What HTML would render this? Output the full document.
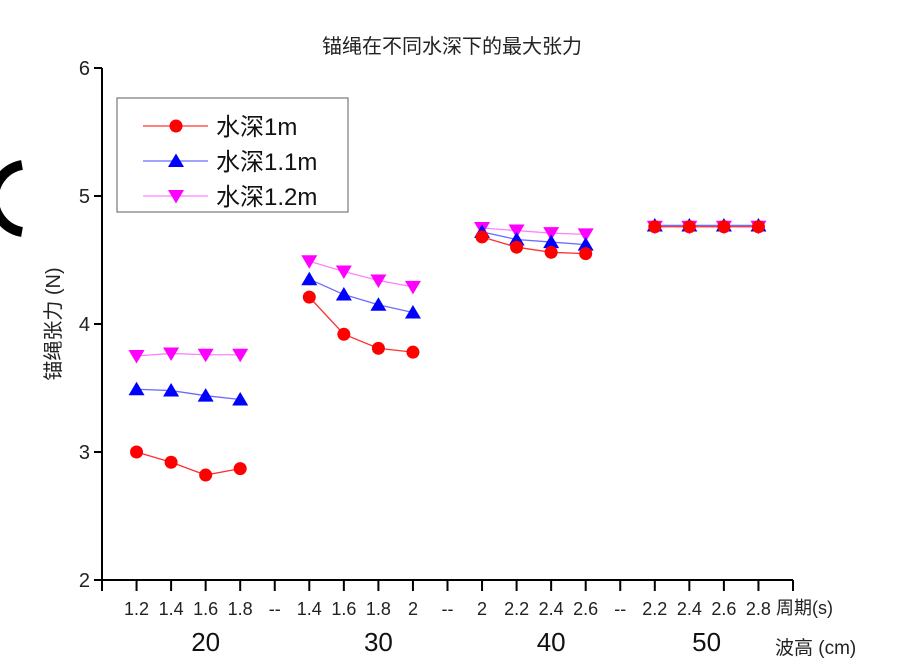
<!DOCTYPE html>
<html><head><meta charset="utf-8">
<style>
body{margin:0;background:#fff;width:900px;height:660px;overflow:hidden}
svg{display:block;font-family:"Liberation Sans","Noto Sans CJK SC",sans-serif}
</style></head>
<body>
<svg id="chart" width="900" height="660">
<path d="M22,165 A34,34 0 0 0 22,232" stroke="#000" stroke-width="10" fill="none"/>
<text x="452" y="53" font-size="20" text-anchor="middle" fill="#222">锚绳在不同水深下的最大张力</text>
<text transform="translate(60,324) rotate(-90)" font-size="20" text-anchor="middle" fill="#222">锚绳张力 (N)</text>
<text x="776" y="614" font-size="18" fill="#222">周期(s)</text>
<text x="775" y="654" font-size="19" fill="#222">波高 (cm)</text>
<g id="axes"></g><g id="series"></g>
<g>
<rect x="117" y="98" width="231" height="114" fill="#fff" stroke="#777" stroke-width="1.2"/>
<g id="legend"></g>
</g>
</svg>
<script>
const xLabels=["1.2","1.4","1.6","1.8","--","1.4","1.6","1.8","2","--","2","2.2","2.4","2.6","--","2.2","2.4","2.6","2.8"];
const groupLabels=["20","30","40","50"];
const yTicks=[2,3,4,5,6];
const seriesNames=["水深1m","水深1.1m","水深1.2m"];
const depth1=[3.00,2.92,2.82,2.87, 4.21,3.92,3.81,3.78, 4.68,4.60,4.56,4.55, 4.76,4.76,4.76,4.76];
const depth11=[3.49,3.48,3.44,3.41, 4.35,4.23,4.15,4.09, 4.72,4.66,4.64,4.62, 4.77,4.77,4.77,4.77];
const depth12=[3.75,3.77,3.76,3.76, 4.49,4.41,4.34,4.29, 4.75,4.73,4.71,4.70, 4.76,4.76,4.76,4.76];

const NS="http://www.w3.org/2000/svg";
const x0=102,x1=793,step=(x1-x0)/20;
const xp=i=>x0+step*i;
const yp=v=>580-(v-2)*128;
function mk(tag,attrs,parent,txt){const e=document.createElementNS(NS,tag);for(const k in attrs)e.setAttribute(k,attrs[k]);if(txt!==undefined)e.textContent=txt;parent.appendChild(e);return e;}
const axes=document.getElementById('axes');
let e=mk('line',{x1:x0,y1:68,x2:x0,y2:580,stroke:'#000','stroke-width':2},axes);


e=mk('line',{x1:x0,y1:580,x2:x1,y2:580,stroke:'#000','stroke-width':2},axes);


yTicks.forEach(v=>{
  let t=mk('line',{x1:x0-8,y1:yp(v),x2:x0,y2:yp(v),stroke:'#000','stroke-width':2},axes);
  
  
  let l=mk('text',{x:x0-12,y:yp(v)+7,'font-size':20,'text-anchor':'end',fill:'#222'},axes,String(v));
  
  
});
for(let i=0;i<=20;i++){
  let t=mk('line',{x1:xp(i),y1:580,x2:xp(i),y2:591,stroke:'#000','stroke-width':2},axes);
  
  
}
xLabels.forEach((s,i)=>{
  let l=mk('text',{x:xp(i+1),y:615,'font-size':18,'text-anchor':'middle',fill:'#222'},axes,s);
  
  
});
const groupPos=[3,8,13,17.5];
groupLabels.forEach((s,g)=>{
  let l=mk('text',{x:xp(groupPos[g]),y:651,'font-size':26,'text-anchor':'middle',fill:'#111'},axes,s);
  
  
});
function marker(p,kind,cx,cy,col){
  if(kind==0) return mk('circle',{cx:cx,cy:cy,r:6.5,fill:col},p);
  if(kind==1) return mk('path',{d:`M${cx},${cy-7.5} L${cx+8},${cy+6} L${cx-8},${cy+6}Z`,fill:col},p);
  return mk('path',{d:`M${cx},${cy+7.5} L${cx+8},${cy-6} L${cx-8},${cy-6}Z`,fill:col},p);
}
const ser=document.getElementById('series');
const datas=[depth1,depth11,depth12];
const lineCols=['#ff3030','#6b6bff','#ff80ff'];
const markCols=['#ff0000','#0000ff','#ff00ff'];
[2,1,0].forEach(s=>{
  const g=mk('g',{},ser);
  
  
  for(let grp=0;grp<4;grp++){
    const pts=[];
    for(let k=0;k<4;k++){pts.push(xp(grp*5+k+1)+','+yp(datas[s][grp*4+k]));}
    const pl=mk('polyline',{points:pts.join(' '),fill:'none',stroke:lineCols[s],'stroke-width':1.3},g);
    
    
  }
  for(let grp=0;grp<4;grp++)for(let k=0;k<4;k++){
    const m=marker(g,s,xp(grp*5+k+1),yp(datas[s][grp*4+k]),markCols[s]);
    
    
  }
});
const lg=document.getElementById('legend');
seriesNames.forEach((n,i)=>{
  const y=126+i*35;
  let l=mk('line',{x1:143,y1:y,x2:208,y2:y,stroke:lineCols[i],'stroke-width':1.3},lg);
  
  
  let m=marker(lg,i,176,y,markCols[i]);
  
  
  let t=mk('text',{x:216,y:y+9,'font-size':24,fill:'#111'},lg,n);
  
  
});
</script>
</body></html>
